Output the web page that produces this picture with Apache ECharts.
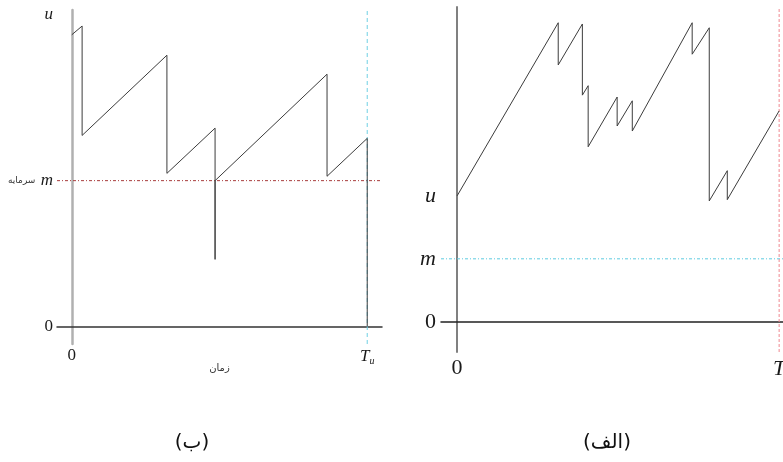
<!DOCTYPE html>
<html>
<head>
<meta charset="utf-8">
<script src="https://cdn.jsdelivr.net/npm/echarts@6/dist/echarts.min.js"></script>
<style>
  html, body { margin: 0; padding: 0; background: #fff; }
  #chart { width: 783px; height: 462px; }
</style>
</head>
<body>
<div id="chart"></div>
<script>
// Panel (ب): capital path that touches the floor m and is cut at T_u
var leftTimes   = [0, 0.35, 0.35, 3.22, 3.22, 4.85, 4.85, 4.85, 8.64, 8.64, 10, 10];
var leftCapital = [20.0, 20.6, 13.1, 18.6, 10.5, 13.6, 4.6, 10, 17.3, 10.3, 12.9, 0];
var leftFloor = 10;            // m
var leftHorizon = 10;          // T_u
var leftYTicks = [0, 10, 21.4];
var leftYLabels = ['0', 'm', 'u'];
var leftXTicks = [0, 10];
var leftXLabels = ['0', 'Tu'];

// Panel (الف): capital path starting at u and running to T
var rightTimes   = [0, 3.14, 3.14, 3.89, 3.89, 4.07, 4.07, 4.97, 4.97, 5.44, 5.44, 7.30, 7.30, 7.83, 7.83, 8.39, 8.39, 10];
var rightCapital = [20, 47.5, 40.8, 47.3, 36.0, 37.5, 27.8, 35.7, 31.1, 35.1, 30.3, 47.5, 42.5, 46.7, 19.2, 24.0, 19.4, 33.5];
var rightFloor = 10;           // m
var rightHorizon = 10;         // T
var rightYTicks = [0, 10, 20];
var rightYLabels = ['0', 'm', 'u'];
var rightXTicks = [0, 10];
var rightXLabels = ['0', 'T'];

var captions = ['(ب)', '(الف)'];
var capitalWord = 'سرمایه';
var timeWord = 'زمان';

// axis extents of the two panels
var leftX = [-0.5, 10.5], leftY = [-1.2, 21.7];
var rightX = [-0.5, 10.12], rightY = [-4.8, 50];

function pairs(xs, ys) {
  return xs.map(function (x, i) { return [x, ys[i]]; });
}

var serif = 'Liberation Serif, Times New Roman, serif';
var arabicFont = 'DejaVu Sans, Noto Sans, sans-serif';
var ink = '#1a1a1a';

function labelFor(ticks, labels) {
  return function (v) {
    var i = ticks.indexOf(v);
    if (i < 0) return '';
    var t = labels[i];
    if (t === '0') return '{n|0}';
    if (t === 'Tu') return '{it|T}{sub|u}';
    if (t === 'm' && labels === leftYLabels) return '{fa|' + capitalWord + '} {it|m}';
    return '{it|' + t + '}';
  };
}

function richSet(size) {
  return {
    n: { fontFamily: serif, fontSize: size, color: ink },
    it: { fontFamily: serif, fontSize: size, fontStyle: 'italic', color: ink, lineHeight: size + 2 },
    sub: { fontFamily: serif, fontSize: Math.round(size * 0.6), fontStyle: 'italic', color: ink,
           verticalAlign: 'bottom', lineHeight: Math.round(size * 0.6), padding: [size * 0.45, 0, 0, 0] },
    fa: { fontFamily: arabicFont, fontSize: 9, color: '#333', padding: [0, 2, 0, 0] }
  };
}

// horizontal level across the whole panel
function levelLine(gi, xr, level, color, dash) {
  return {
    type: 'line', xAxisIndex: gi, yAxisIndex: gi, z: 1, silent: true,
    data: [[xr[0], level], [xr[1], level]],
    showSymbol: false, symbol: 'none',
    lineStyle: { color: color, width: 1, type: dash }
  };
}

// vertical marker across the whole panel
function timeLine(gi, yr, t, color, dash) {
  return {
    type: 'line', xAxisIndex: gi, yAxisIndex: gi, z: 1, silent: true,
    data: [[t, yr[0]], [t, yr[1]]],
    showSymbol: false, symbol: 'none',
    lineStyle: { color: color, width: 1, type: dash }
  };
}

var chart = echarts.init(document.getElementById('chart'), null, { renderer: 'canvas' });

var option = {
  animation: false,
  backgroundColor: '#fff',
  grid: [
    { left: 57, top: 10, width: 325, height: 334, outerBoundsMode: 'none', containLabel: false },
    { left: 441, top: 7, width: 342, height: 345, outerBoundsMode: 'none', containLabel: false }
  ],
  xAxis: [
    {
      gridIndex: 0, type: 'value', min: leftX[0], max: leftX[1],
      axisLine: { onZero: true, lineStyle: { color: '#333', width: 1.5 } },
      axisTick: { show: false },
      splitLine: { show: false },
      axisLabel: { customValues: leftXTicks, margin: 3, formatter: labelFor(leftXTicks, leftXLabels), rich: richSet(17) },
      name: timeWord, nameLocation: 'middle', nameGap: 19, nameMoveOverlap: false,
      nameTextStyle: { fontFamily: arabicFont, fontSize: 10, color: '#333' }
    },
    {
      gridIndex: 1, type: 'value', min: rightX[0], max: rightX[1],
      axisLine: { onZero: true, lineStyle: { color: '#222', width: 1.5 } },
      axisTick: { show: false },
      splitLine: { show: false },
      axisLabel: { customValues: rightXTicks, margin: 5, formatter: labelFor(rightXTicks, rightXLabels), rich: richSet(22) }
    }
  ],
  yAxis: [
    {
      gridIndex: 0, type: 'value', min: leftY[0], max: leftY[1],
      axisLine: { show: true, onZero: true, lineStyle: { color: '#b0b0b0', width: 2.5 } },
      axisTick: { show: false },
      splitLine: { show: false },
      axisLabel: { customValues: leftYTicks, margin: 4, formatter: labelFor(leftYTicks, leftYLabels), rich: richSet(17) }
    },
    {
      gridIndex: 1, type: 'value', min: rightY[0], max: rightY[1],
      axisLine: { show: true, onZero: true, lineStyle: { color: '#808080', width: 2 } },
      axisTick: { show: false },
      splitLine: { show: false },
      axisLabel: { customValues: rightYTicks, margin: 5, formatter: labelFor(rightYTicks, rightYLabels), rich: richSet(22) }
    }
  ],
  series: [
    levelLine(0, leftX, leftFloor, '#a83c3c', [3, 2, 1, 2]),
    timeLine(0, leftY, leftHorizon, '#6fd0e4', [4, 3]),
    {
      type: 'line', xAxisIndex: 0, yAxisIndex: 0, z: 3,
      data: pairs(leftTimes, leftCapital),
      showSymbol: false, symbol: 'none',
      lineStyle: { color: '#3c3c3c', width: 1 }
    },
    levelLine(1, rightX, rightFloor, '#5ccbe0', [3, 2, 1, 2]),
    timeLine(1, rightY, rightHorizon, '#f08890', [3, 2]),
    {
      type: 'line', xAxisIndex: 1, yAxisIndex: 1, z: 3,
      data: pairs(rightTimes, rightCapital),
      showSymbol: false, symbol: 'none',
      lineStyle: { color: '#3c3c3c', width: 1 }
    }
  ],
  graphic: [
    {
      type: 'text', x: 192, y: 443,
      style: { text: captions[0], font: '20px "DejaVu Sans", "Noto Sans", sans-serif', fill: '#111', textAlign: 'center', textVerticalAlign: 'middle' }
    },
    {
      type: 'text', x: 607, y: 443,
      style: { text: captions[1], font: '20px "DejaVu Sans", "Noto Sans", sans-serif', fill: '#111', textAlign: 'center', textVerticalAlign: 'middle' }
    }
  ]
};

chart.setOption(option);
</script>
</body>
</html>
